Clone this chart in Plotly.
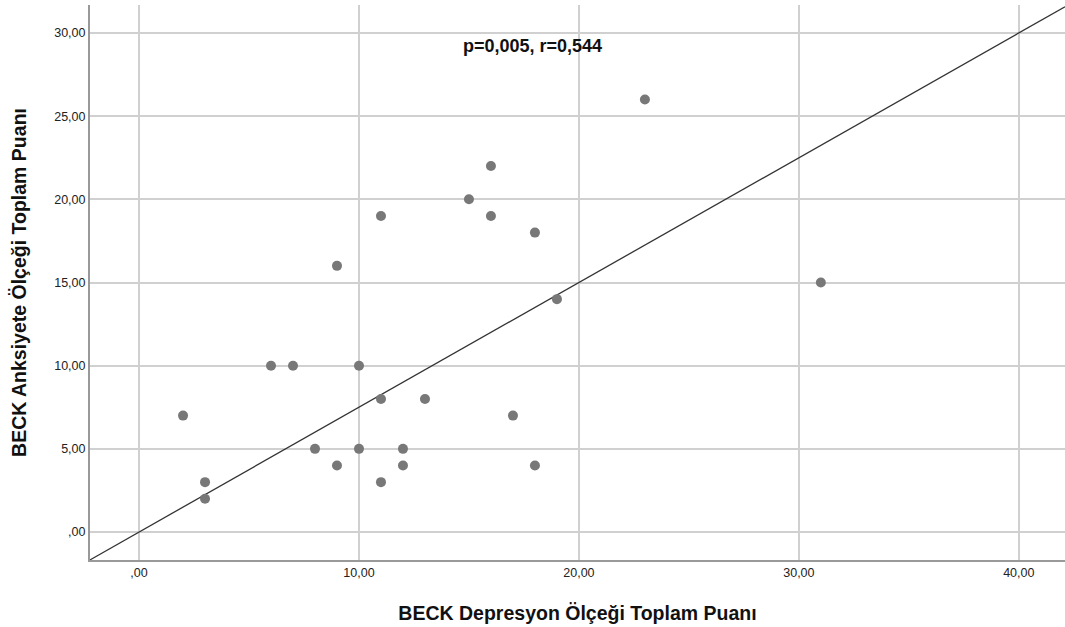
import plotly.graph_objects as go

depression = [2, 3, 3, 6, 7, 8, 9, 9, 10, 10, 11, 11, 11, 12, 12, 13, 15, 16, 16, 17, 18, 18, 19, 23, 31]
anxiety = [7, 3, 2, 10, 10, 5, 4, 16, 10, 5, 8, 3, 19, 5, 4, 8, 20, 22, 19, 7, 18, 4, 14, 26, 15]

x_tick_vals = [0, 10, 20, 30, 40]
x_tick_text = [",00", "10,00", "20,00", "30,00", "40,00"]
y_tick_vals = [0, 5, 10, 15, 20, 25, 30]
y_tick_text = [",00", "5,00", "10,00", "15,00", "20,00", "25,00", "30,00"]

fit_slope = 0.75
fit_intercept = 0.0
annotation_text = "p=0,005, r=0,544"

x_range = [-2.23, 42.1]
y_range = [-1.68, 31.68]

line_x = x_range
line_y = [fit_intercept + fit_slope * v for v in line_x]

font_family = "Liberation Sans, Arial, sans-serif"

fig = go.Figure()
fig.add_trace(go.Scatter(x=line_x, y=line_y, mode="lines",
                         line=dict(color="#333333", width=1.3), hoverinfo="skip"))
fig.add_trace(go.Scatter(x=depression, y=anxiety, mode="markers",
                         marker=dict(color="#787878", size=10, line=dict(width=0))))

fig.add_annotation(x=17.9, y=29.2, text="<b>" + annotation_text + "</b>", showarrow=False,
                   font=dict(family=font_family, size=18, color="#111111"))

fig.update_layout(
    width=1065, height=627,
    margin=dict(l=90, r=0, t=5, b=67),
    paper_bgcolor="white", plot_bgcolor="white",
    showlegend=False,
    font=dict(family=font_family, color="#222222"),
)
fig.update_xaxes(
    range=x_range, tickvals=x_tick_vals, ticktext=x_tick_text,
    showgrid=True, gridcolor="#d0d0d0", gridwidth=1.5,
    showline=True, linecolor="#999999", linewidth=2, zeroline=False,
    tickfont=dict(size=12.5, color="#222222"), ticks="",
    title=dict(text="<b>BECK Depresyon Ölçeği Toplam Puanı</b>",
               font=dict(size=19.5, color="#111111"), standoff=27),
)
fig.update_yaxes(
    range=y_range, tickvals=y_tick_vals, ticktext=y_tick_text,
    showgrid=True, gridcolor="#d0d0d0", gridwidth=1.5,
    showline=True, linecolor="#999999", linewidth=2, zeroline=False,
    tickfont=dict(size=12.5, color="#222222"), ticks="",
    title=dict(text="<b>BECK Anksiyete Ölçeği Toplam Puanı</b>",
               font=dict(size=19.5, color="#111111"), standoff=22),
)

fig.write_html("out.html", config={"displayModeBar": False},
               post_script="document.body.style.margin='0px';")
